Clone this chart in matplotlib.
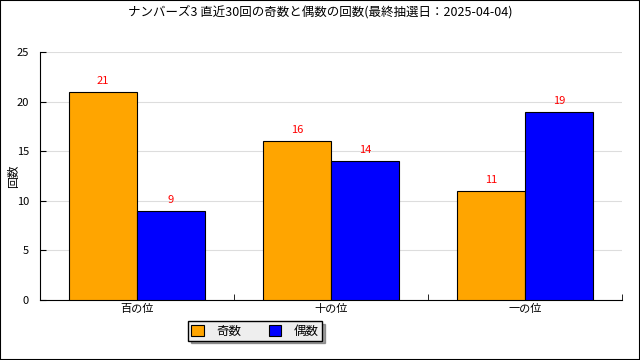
import matplotlib
matplotlib.use("Agg")
import matplotlib.pyplot as plt
import numpy as np
from matplotlib.patches import Rectangle

plt.rcParams['font.family'] = ['Noto Sans CJK JP', 'DejaVu Sans']

categories = ['百の位', '十の位', '一の位']
odd_counts = [21, 16, 11]
even_counts = [9, 14, 19]
series_names = ['奇数', '偶数']
title = 'ナンバーズ3 直近30回の奇数と偶数の回数(最終抽選日：2025-04-04)'

fig = plt.figure(figsize=(6.4, 3.6), dpi=100)
fig.patch.set_facecolor('white')
fig.patches.append(Rectangle((0, 0), 1, 1, transform=fig.transFigure,
                             fill=False, edgecolor='black', linewidth=1.5))

ax = fig.add_axes([40 / 640, 60 / 360, 582 / 640, 248 / 360])
x = np.arange(len(categories))
w = 0.35
b1 = ax.bar(x - w / 2, odd_counts, w, color='#ffa500', edgecolor='black', linewidth=0.8,
            label=series_names[0], zorder=3)
b2 = ax.bar(x + w / 2, even_counts, w, color='#0000ff', edgecolor='black', linewidth=0.8,
            label=series_names[1], zorder=3)

for bars, vals in ((b1, odd_counts), (b2, even_counts)):
    for bar, v in zip(bars, vals):
        ax.text(bar.get_x() + bar.get_width() / 2, v + 0.6, str(v),
                ha='center', va='bottom', color='red', fontsize=8)

ax.set_xlim(-0.5, 2.5)
ax.set_ylim(0, 25)
ax.set_yticks([0, 5, 10, 15, 20, 25])
ax.yaxis.grid(True, color='#dddddd', linewidth=0.8, zorder=0)
ax.set_xticks(x)
ax.set_xticklabels(categories, fontsize=8)
ax.tick_params(axis='x', length=0, pad=3)
ax.set_xticks([0.5, 1.5, 2.5], minor=True)
ax.tick_params(axis='x', which='minor', length=4, direction='in')
ax.tick_params(axis='y', labelsize=8, length=4, direction='in', pad=8)
for s in ('top', 'right'):
    ax.spines[s].set_visible(False)
ax.set_ylabel('回数', fontsize=8.5)
ax.yaxis.set_label_coords(-0.034, 0.5)

fig.suptitle(title, y=0.985, fontsize=9)

leg = fig.legend(loc='center', bbox_to_anchor=(255 / 640, 1 - 331 / 360), ncol=2,
                 fontsize=9, frameon=True, fancybox=False, shadow=True,
                 edgecolor='black', facecolor='#eeeeee', framealpha=1,
                 handlelength=1.0, handleheight=1.0, columnspacing=2.2,
                 borderpad=0.25, handletextpad=1.0)
leg.get_frame().set_linewidth(1.0)

fig.savefig('out.png', dpi=100)
